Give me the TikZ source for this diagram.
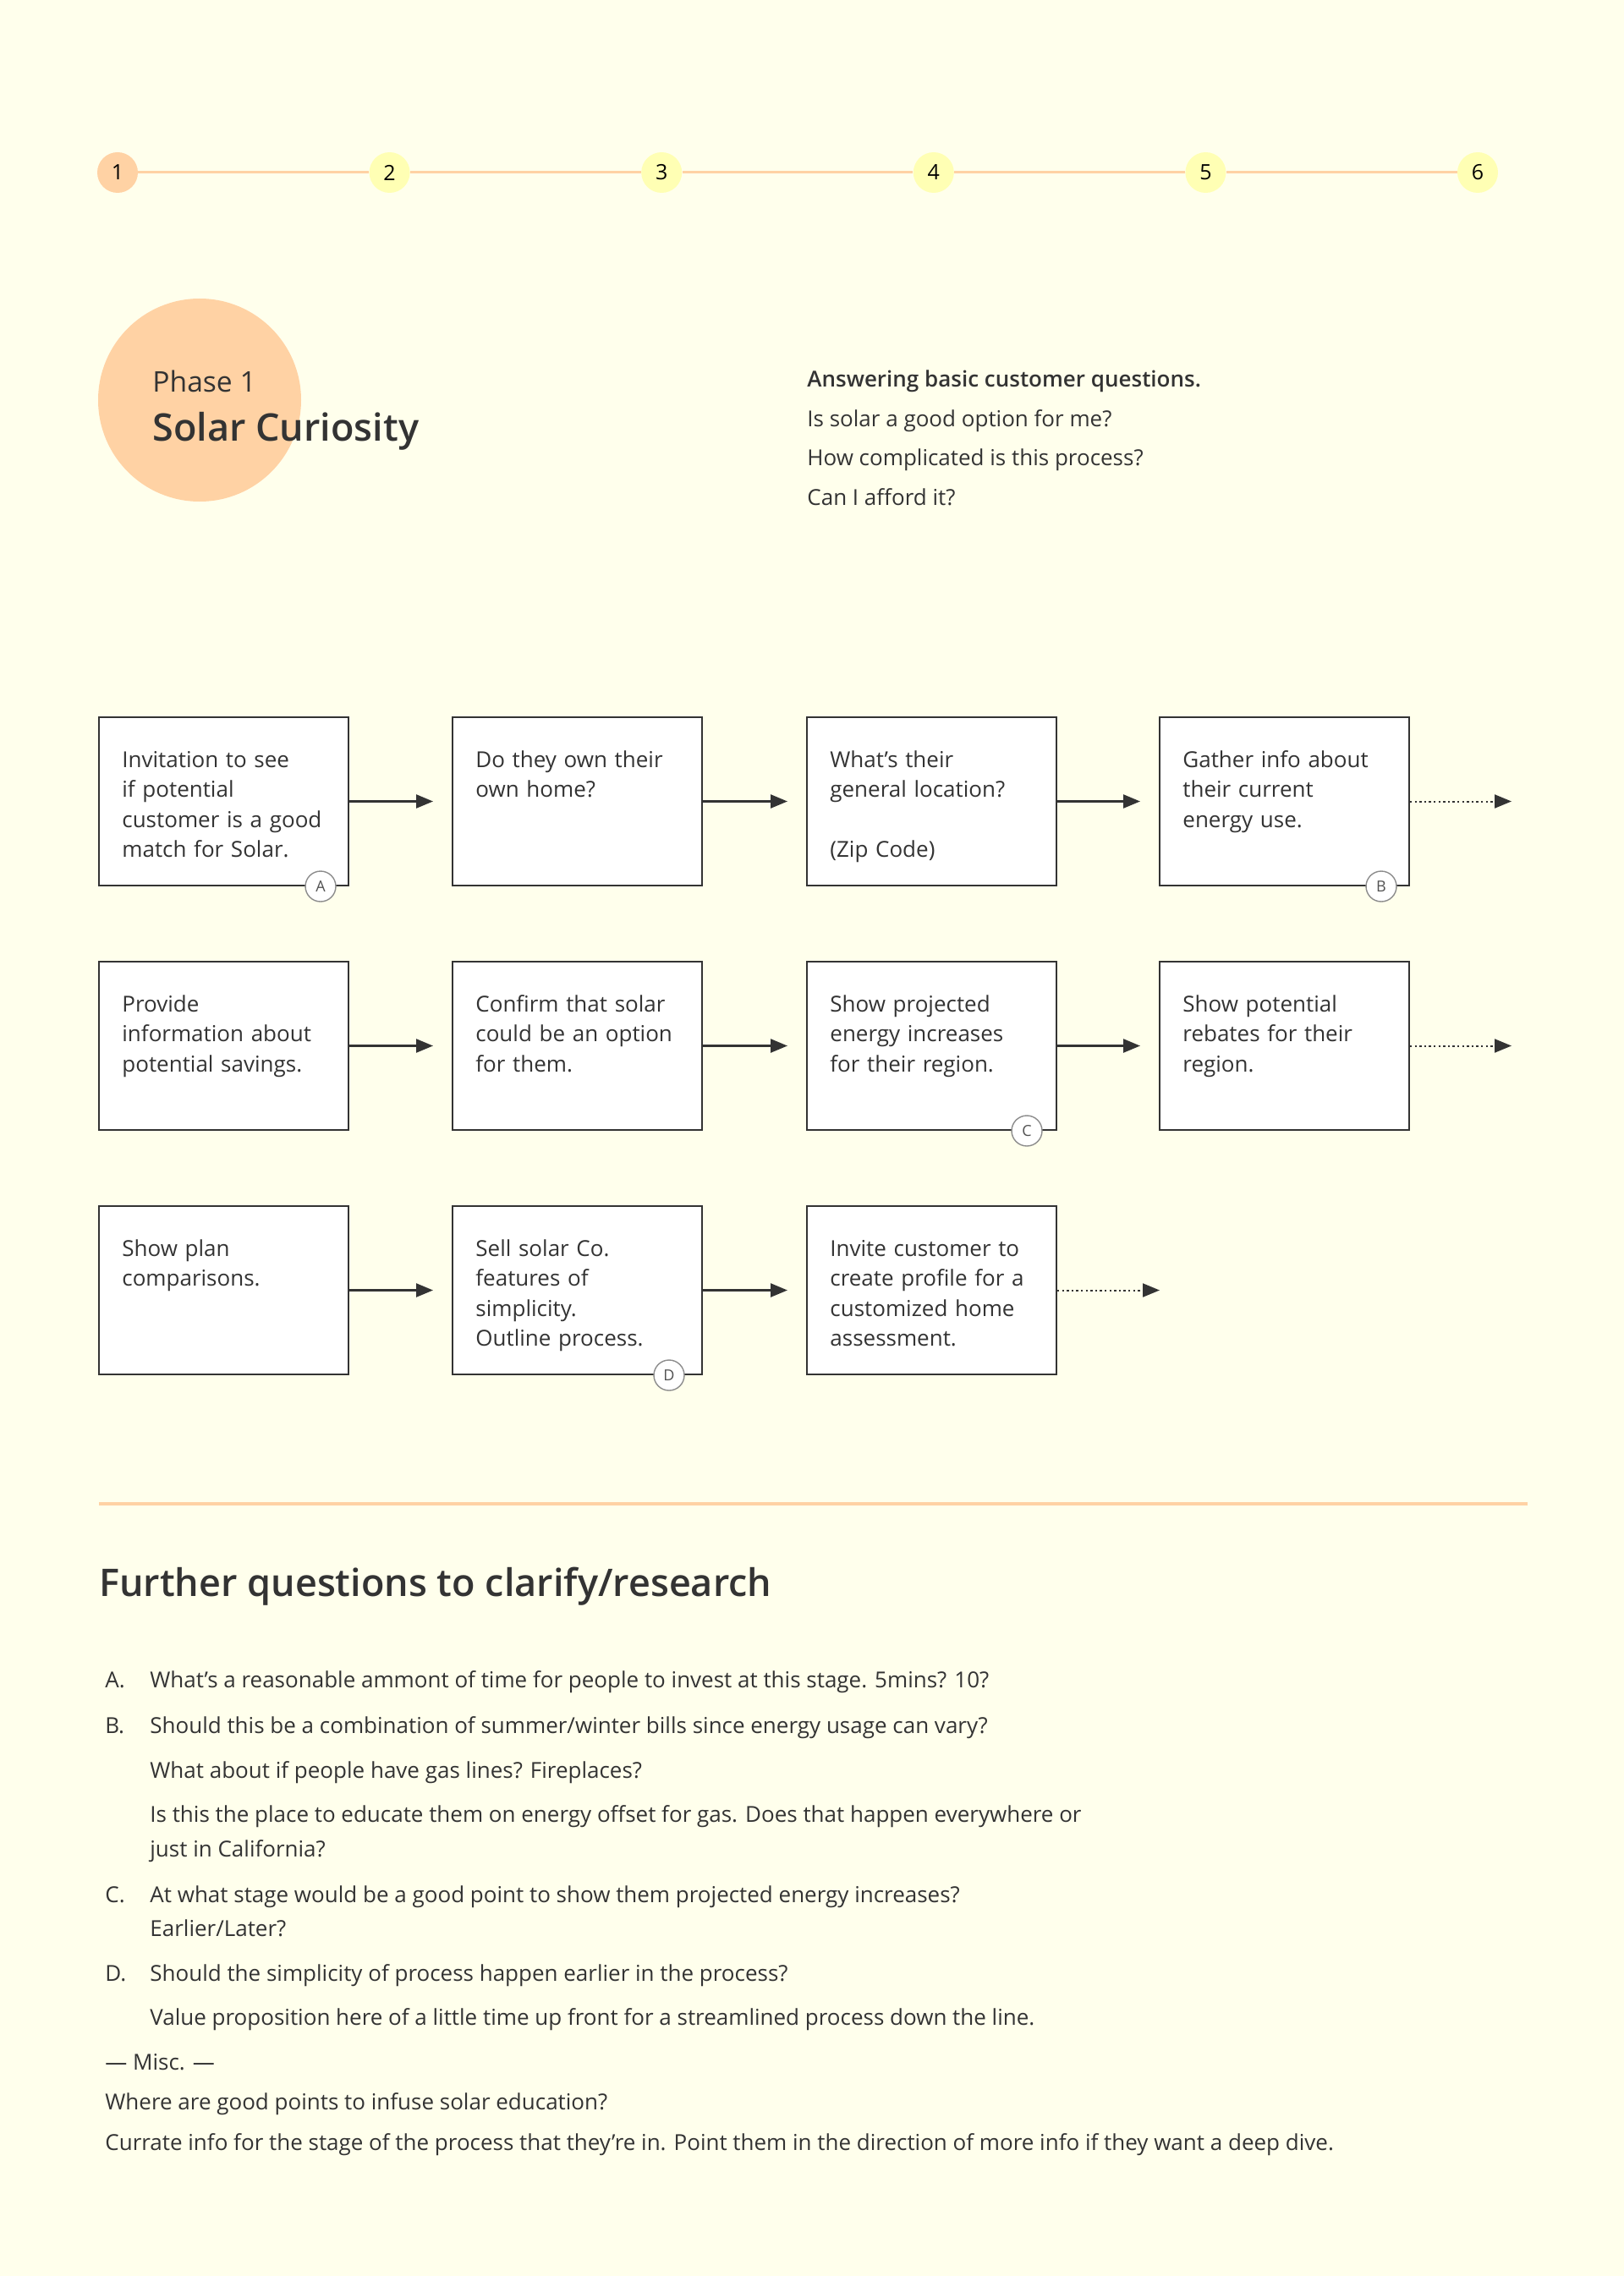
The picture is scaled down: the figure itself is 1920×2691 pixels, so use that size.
\documentclass[tikz,border=0pt]{standalone}
\usepackage{fontspec}
\setmainfont{Open Sans}
\IfFontExistsTF{Open Sans Semibold}{\newfontfamily\semib{Open Sans Semibold}}{\newcommand\semib{\bfseries}}
\usetikzlibrary{arrows.meta, calc}

\definecolor{paper}{HTML}{FFFFEC}
\definecolor{peach}{HTML}{FFD2A4}
\definecolor{lemon}{HTML}{FFFFB4}
\definecolor{ink}{HTML}{333333}
\definecolor{badgegray}{HTML}{8C8C8C}

\tikzset{
  stepbox/.style={draw=ink, line width=1pt, fill=white, minimum width=147.5pt, minimum height=99.5pt, inner sep=0pt},
  steptext/.style={anchor=base west, align=left, text width=130pt, inner sep=0pt, text=ink, font=\fontsize{13}{17.8}\selectfont},
  badge/.style={circle, draw=badgegray, line width=0.7pt, fill=white, minimum size=18pt, inner sep=0pt, text=ink!85, font=\fontsize{9}{9}\selectfont},
  stage/.style={circle, minimum size=24pt, inner sep=0pt, text=black, font=\fontsize{12.5}{12.5}\selectfont},
  flow/.style={-{Triangle[length=10pt,width=8pt]}, line width=1.2pt, draw=ink, shorten >=11pt},
  more/.style={-{Triangle[length=10pt,width=8pt]}, line width=1pt, draw=ink, dash pattern=on 1.2pt off 1.6pt},
  plain/.style={anchor=base west, inner sep=0pt, text=ink, font=\fontsize{13}{13}\selectfont},
}

\begin{document}
\begin{tikzpicture}[x=0.5pt, y=-0.5pt]
  \fill[paper] (0,0) rectangle (1920,2691);
  \useasboundingbox (0,0) rectangle (1920,2691);

  % stages along the top
  \node[stage, fill=peach] (n1) at (139,204) {1};
  \node[stage, fill=lemon] (n2) at (460.6,204) {2};
  \node[stage, fill=lemon] (n3) at (782.2,204) {3};
  \node[stage, fill=lemon] (n4) at (1103.8,204) {4};
  \node[stage, fill=lemon] (n5) at (1425.4,204) {5};
  \node[stage, fill=lemon] (n6) at (1747,204) {6};
  \draw[peach, line width=1.5pt] (n1) -- (n2) -- (n3) -- (n4) -- (n5) -- (n6);

  % phase title
  \node[circle, fill=peach, minimum size=120pt, inner sep=0pt] (phase) at (236,473) {};
  \node[plain, font=\fontsize{16.8}{16.8}\selectfont] (phnum) at (180,463) {Phase 1};
  \node[plain, font=\semib\fontsize{22.5}{22.5}\selectfont] (phname) at (180,521) {Solar Curiosity};

  \node[plain, font=\semib\fontsize{13}{13}\selectfont] (h0) at (954,457) {Answering basic customer questions.};
  \node[plain] (h1) at (954,504) {Is solar a good option for me?};
  \node[plain] (h2) at (954,550) {How complicated is this process?};
  \node[plain] (h3) at (954,597) {Can I afford it?};

  % row 1
  \node[stepbox] (b11) at (264.5,947.5) {};
  \node[stepbox] (b12) at (682.5,947.5) {};
  \node[stepbox] (b13) at (1101.5,947.5) {};
  \node[stepbox] (b14) at (1518.5,947.5) {};
  \node[steptext] (t11) at ($(b11.north west)+(28,60)$) {Invitation to see\\if potential\\customer is a good\\match for Solar.};
  \node[steptext] (t12) at ($(b12.north west)+(28,60)$) {Do they own their\\own home?};
  \node[steptext] (t13) at ($(b13.north west)+(28,60)$) {What’s their\\general location?\\[17.8pt](Zip Code)};
  \node[steptext] (t14) at ($(b14.north west)+(28,60)$) {Gather info about\\their current\\energy use.};

  % row 2
  \node[stepbox] (b21) at (264.5,1236.5) {};
  \node[stepbox] (b22) at (682.5,1236.5) {};
  \node[stepbox] (b23) at (1101.5,1236.5) {};
  \node[stepbox] (b24) at (1518.5,1236.5) {};
  \node[steptext] (t21) at ($(b21.north west)+(28,60)$) {Provide\\information about\\potential savings.};
  \node[steptext] (t22) at ($(b22.north west)+(28,60)$) {Confirm that solar\\could be an option\\for them.};
  \node[steptext] (t23) at ($(b23.north west)+(28,60)$) {Show projected\\energy increases\\for their region.};
  \node[steptext] (t24) at ($(b24.north west)+(28,60)$) {Show potential\\rebates for their\\region.};

  % row 3
  \node[stepbox] (b31) at (264.5,1525.5) {};
  \node[stepbox] (b32) at (682.5,1525.5) {};
  \node[stepbox] (b33) at (1101.5,1525.5) {};
  \node[steptext] (t31) at ($(b31.north west)+(28,60)$) {Show plan\\comparisons.};
  \node[steptext] (t32) at ($(b32.north west)+(28,60)$) {Sell solar Co.\\features of\\simplicity.\\Outline process.};
  \node[steptext] (t33) at ($(b33.north west)+(28,60)$) {Invite customer to\\create profile for a\\customized home\\assessment.};

  % arrows
  \draw[flow] (b11) -- (b12);
  \draw[flow] (b12) -- (b13);
  \draw[flow] (b13) -- (b14);
  \draw[flow] (b21) -- (b22);
  \draw[flow] (b22) -- (b23);
  \draw[flow] (b23) -- (b24);
  \draw[flow] (b31) -- (b32);
  \draw[flow] (b32) -- (b33);
  \coordinate (m1) at (1787,947.5);
  \coordinate (m2) at (1787,1236.5);
  \coordinate (m3) at (1371,1525.5);
  \draw[more] (b14) -- (m1);
  \draw[more] (b24) -- (m2);
  \draw[more] (b33) -- (m3);

  % note markers
  \node[badge] (ba) at ($(b11.south east)+(-34,0)$) {A};
  \node[badge] (bb) at ($(b14.south east)+(-34,0)$) {B};
  \node[badge] (bc) at ($(b23.south east)+(-36,0)$) {C};
  \node[badge] (bd) at ($(b32.south east)+(-40,0)$) {D};

  % further questions
  \draw[peach, line width=2pt] (117,1778) -- (1806,1778);
  \node[plain, font=\semib\fontsize{22.5}{22.5}\selectfont] (fq) at (117,1887) {Further questions to clarify/research};

  \node[plain] (qa) at (124,1995) {A.};
  \node[plain] (qa1) at (177,1995) {What’s a reasonable ammont of time for people to invest at this stage. 5mins? 10?};
  \node[plain] (qb) at (124,2049) {B.};
  \node[plain] (qb1) at (177,2049) {Should this be a combination of summer/winter bills since energy usage can vary?};
  \node[plain] (qb2) at (177,2102) {What about if people have gas lines? Fireplaces?};
  \node[plain] (qb3) at (177,2154) {Is this the place to educate them on energy offset for gas. Does that happen everywhere or};
  \node[plain] (qb4) at (177,2195) {just in California?};
  \node[plain] (qc) at (124,2249) {C.};
  \node[plain] (qc1) at (177,2249) {At what stage would be a good point to show them projected energy increases?};
  \node[plain] (qc2) at (177,2289) {Earlier/Later?};
  \node[plain] (qd) at (124,2342) {D.};
  \node[plain] (qd1) at (177,2342) {Should the simplicity of process happen earlier in the process?};
  \node[plain] (qd2) at (177,2394) {Value proposition here of a little time up front for a streamlined process down the line.};
  \node[plain] (misc) at (124,2447) {— Misc. —};
  \node[plain] (misc1) at (124,2494) {Where are good points to infuse solar education?};
  \node[plain] (misc2) at (124,2542) {Currate info for the stage of the process that they’re in. Point them in the direction of more info if they want a deep dive.};
\end{tikzpicture}
\end{document}
